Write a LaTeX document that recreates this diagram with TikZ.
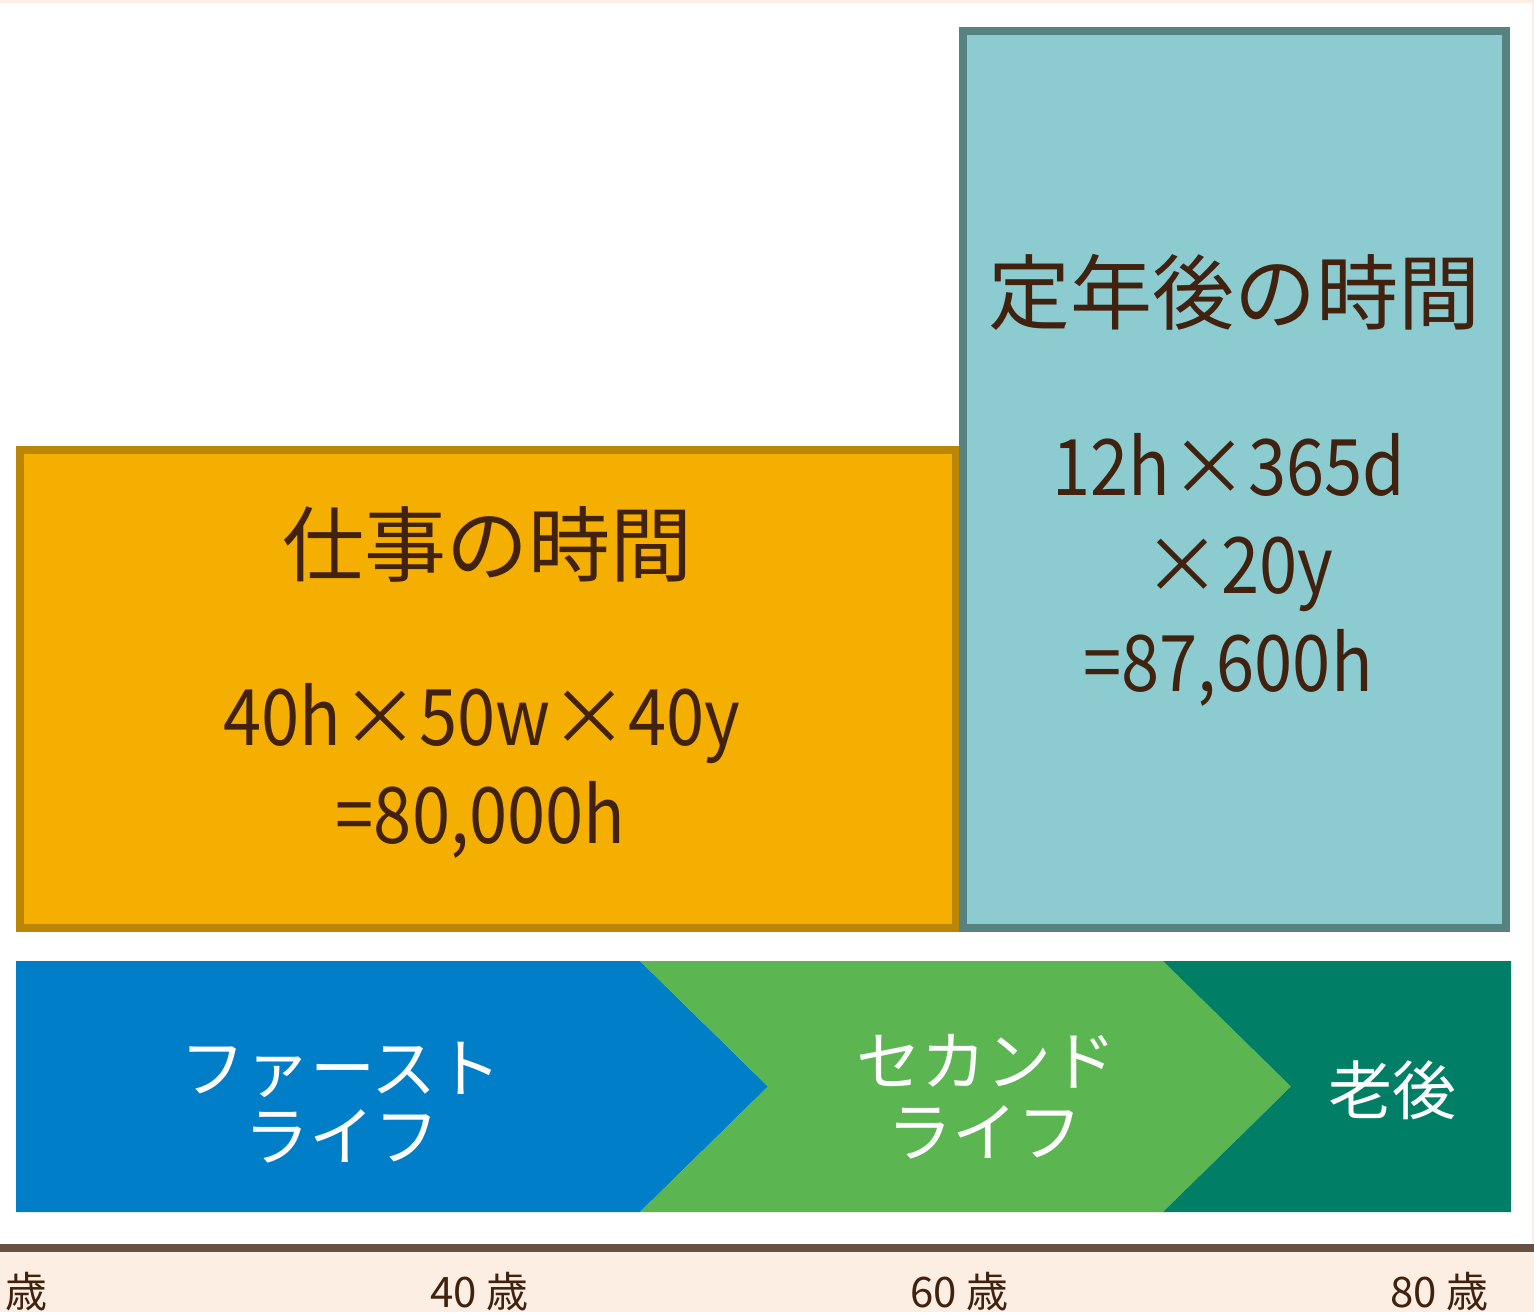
\documentclass[tikz,border=0pt]{standalone}
\usepackage{fontspec}
\setmainfont{Noto Sans CJK JP}
\newfontfamily\jpfont{Noto Sans CJK JP}
\newfontfamily\numfont[FakeStretch=0.88]{Noto Sans CJK JP}
\newcommand\mulsign{{\jpfont ×}}
\definecolor{cream}{HTML}{FCEEE2}
\definecolor{txtbrown}{HTML}{40220F}
\definecolor{orfill}{HTML}{F5AF00}
\definecolor{ordraw}{HTML}{BB8506}
\definecolor{tlfill}{HTML}{8CCBD0}
\definecolor{tldraw}{HTML}{56827F}
\definecolor{blueband}{HTML}{007FC8}
\definecolor{greenband}{HTML}{5BB551}
\definecolor{dgreenband}{HTML}{007F66}
\definecolor{axisline}{HTML}{665142}
\tikzset{
  titletxt/.style={anchor=base, inner sep=0pt, text=txtbrown, font=\jpfont\fontsize{82}{90}\selectfont},
  calctxt/.style={anchor=base, inner sep=0pt, text=txtbrown, font=\numfont\fontsize{78}{98}\selectfont},
  bandtxt/.style={anchor=base, inner sep=0pt, text=white, font=\jpfont\fontsize{65}{70}\selectfont},
  agetxt/.style={anchor=base west, inner sep=0pt, text=txtbrown, font=\jpfont\fontsize{42}{48}\selectfont},
  boxframe/.style={line width=8pt}
}
\begin{document}
\begin{tikzpicture}[x=1pt,y=-1pt]
\useasboundingbox (0,0) rectangle (1534,1312);
\fill[cream] (0,0) rectangle (1534,1312);
\fill[white] (0,3) rectangle (1532,1244);
% axis line
\fill[axisline] (0,1244) rectangle (1534,1252);
% boxes
\draw[boxframe, draw=ordraw, fill=orfill] (20,450) rectangle (955.5,928);
\draw[boxframe, draw=tldraw, fill=tlfill] (963,31) rectangle (1506,928);
% bands
\fill[blueband] (16,961) -- (640,961) -- (768,1086.5) -- (640,1212) -- (16,1212) -- cycle;
\fill[greenband] (640,961) -- (1163,961) -- (1291,1086.5) -- (1163,1212) -- (640,1212) -- (768,1086.5) -- cycle;
\fill[dgreenband] (1163,961) -- (1511,961) -- (1511,1212) -- (1163,1212) -- (1291,1086.5) -- cycle;
% texts
\node[titletxt] (t1) at (1234.5,323) {定年後の時間};
\node[calctxt] (c1) at (1229,495) {12h\mulsign 365d};
\node[calctxt] (c2) at (1238,593) {\mulsign 20y};
\node[calctxt] (c3) at (1228,691.5) {=87,600h};
\node[titletxt] (t2) at (487.5,575) {仕事の時間};
\node[calctxt] (c4) at (482,745) {40h\mulsign 50w\mulsign 40y};
\node[calctxt] (c5) at (480.5,843.5) {=80,000h};
\node[bandtxt] (b1) at (341,1092) {ファースト};
\node[bandtxt] (b2) at (342,1160) {ライフ};
\node[bandtxt] (b3) at (986,1085) {セカンド};
\node[bandtxt] (b4) at (985,1156) {ライフ};
\node[bandtxt, font=\jpfont\fontsize{64}{68}\selectfont] (b5) at (1392,1114) {老後};
\node[agetxt] (a0) at (5,1307) {歳};
\node[agetxt] (a40) at (430,1307) {40 歳};
\node[agetxt] (a60) at (910,1307) {60 歳};
\node[agetxt] (a80) at (1390,1307) {80 歳};
\end{tikzpicture}
\end{document}
